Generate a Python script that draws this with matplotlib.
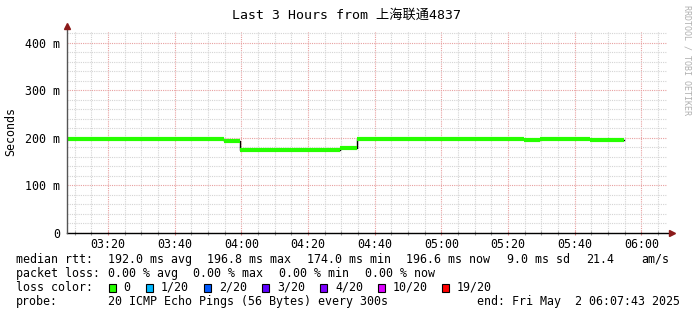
import matplotlib
matplotlib.use("Agg")
import matplotlib.pyplot as plt
import matplotlib.dates as mdates
from matplotlib.patches import Rectangle
from datetime import datetime, timedelta

plt.rcParams['font.family'] = ['DejaVu Sans Mono', 'Noto Sans CJK SC']

# median rtt (ms), one value per 300 s step, steps start at 03:04:40
t0 = datetime(2025, 5, 2, 3, 4, 40)
step_min = 5
median_ms = [196.8, 196.8, 196.8, 196.8, 196.8, 196.8, 196.8, 196.8, 196.8, 196.8,
             193.6,
             174.0, 174.0, 174.0, 174.0, 174.0, 174.0,
             177.8,
             196.8, 196.8, 196.8, 196.8, 196.8, 196.8, 196.8, 196.8, 196.8, 196.8,
             196.3,
             196.8, 196.8, 196.8,
             196.4, 196.6]

start = datetime(2025, 5, 2, 3, 7, 43)
end = datetime(2025, 5, 2, 6, 7, 43)

loss_labels = ["0", "1/20", "2/20", "3/20", "4/20", "10/20", "19/20"]
loss_colors = ["#26ff00", "#00b8ff", "#0059ff", "#5e00ff", "#7e00ff", "#dd00ff", "#ff0000"]

W, H = 697, 315
fig = plt.figure(figsize=(W / 100, H / 100), dpi=100)
ax = fig.add_axes([67 / W, 82 / H, 600 / W, 202 / H])

times = [t0 + timedelta(minutes=step_min * i) for i in range(len(median_ms))]
edges = times + [times[-1] + timedelta(minutes=step_min)]

# black median line with the loss-coloured band on top
ax.step(edges, median_ms + [median_ms[-1]], where='post', color='black', lw=1, zorder=3)
ax.hlines(median_ms, edges[:-1], edges[1:], color=loss_colors[0], lw=3, zorder=4)

ax.set_xlim(start, end)
ax.set_ylim(0, 425)

# grid
ax.xaxis.set_major_locator(mdates.MinuteLocator(byminute=[0, 20, 40]))
ax.xaxis.set_minor_locator(mdates.MinuteLocator(byminute=range(0, 60, 5)))
ax.xaxis.set_major_formatter(mdates.DateFormatter('%H:%M'))
ax.set_yticks([0, 100, 200, 300, 400])
ax.set_yticks(range(0, 421, 20), minor=True)
ax.set_yticklabels(["0", "100 m", "200 m", "300 m", "400 m"])
ax.grid(which='minor', color='#d4d4d4', linestyle=(0, (1, 1)), lw=0.8)
ax.grid(which='major', color='#e8a0a0', linestyle=(0, (1, 1)), lw=0.8)
ax.set_axisbelow(True)

for s in ax.spines.values():
    s.set_visible(False)
ax.tick_params(axis='both', which='both', labelsize=8.4, colors='black')
ax.tick_params(axis='x', which='major', length=3, width=0.8, pad=2, color='#e08080', direction='inout')
ax.tick_params(axis='x', which='minor', length=3, width=0.8, color='#999999', direction='inout')
ax.tick_params(axis='y', which='both', length=0, pad=5)

# axes with arrow heads
ax.plot([0, 1.007], [0, 0], transform=ax.transAxes, color='black', lw=1, clip_on=False, zorder=5)
ax.plot([0, 0], [0, 1.02], transform=ax.transAxes, color='#555555', lw=1, clip_on=False, zorder=5)
ax.plot([1.009], [0], transform=ax.transAxes, marker='>', ms=4, color='#8b1a1a', clip_on=False, zorder=6)
ax.plot([0], [1.025], transform=ax.transAxes, marker='^', ms=4, color='#8b1a1a', clip_on=False, zorder=6)

ax.set_ylabel("Seconds", fontsize=8.4)
ax.yaxis.set_label_coords(-50 / 600, 0.5)

fig.text(346 / W, 1 - 15 / H, "Last 3 Hours from 上海联通4837", ha='center', va='center', fontsize=9.5)
fig.text(687 / W, 1 - 5 / H, "RRDTOOL / TOBI OETIKER", rotation=270, ha='center', va='top',
         fontsize=6, color='#b0b0b0')


def put(x, y, s, **kw):
    fig.text(x / W, 1 - y / H, s, ha=kw.pop('ha', 'left'), va='center', fontsize=8.4, **kw)


# legend rows
put(16, 259.5, "median rtt:")
for x, s in zip([107.5, 207, 307, 406, 507, 586, 641],
                ["192.0 ms avg", "196.8 ms max", "174.0 ms min", "196.6 ms now", "9.0 ms sd", "21.4", "am/s"]):
    put(x, 259.5, s)

put(16, 273.5, "packet loss:")
for x, s in zip([107.5, 193, 279, 365], ["0.00 % avg", "0.00 % max", "0.00 % min", "0.00 % now"]):
    put(x, 273.5, s)

put(16, 287.5, "loss color:")
box_x = [108.5, 146, 204, 262, 320, 378, 442]
for bx, lab, col in zip(box_x, loss_labels, loss_colors):
    fig.patches.append(Rectangle((bx / W, 1 - 291.5 / H), 7 / W, 8 / H, transform=fig.transFigure,
                                 facecolor=col, edgecolor='black', lw=0.8))
    put(bx + 15, 287.5, lab)

put(16, 301.5, "probe:")
put(107.5, 301.5, "20 ICMP Echo Pings (56 Bytes) every 300s")
put(680, 301.5, "end: Fri May  2 06:07:43 2025", ha='right')

fig.savefig("out.png", dpi=100)
